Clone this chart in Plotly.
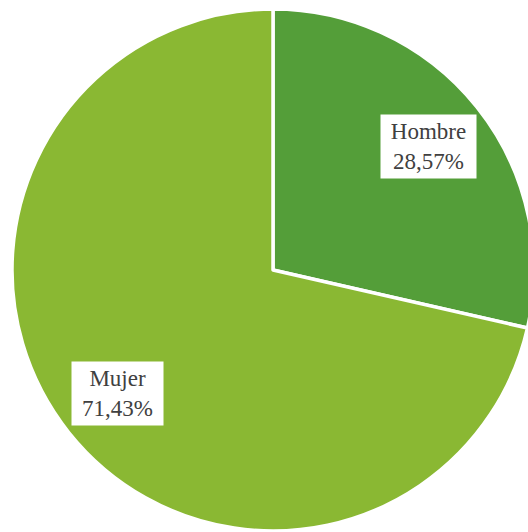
import math
import plotly.graph_objects as go

# Distribution by sex (percent)
labels = ["Hombre", "Mujer"]
values = [28.57, 71.43]
colors = ["#549E39", "#8AB833"]

# Canvas and pie geometry (pixels)
W, H = 534, 532
CX, CY, R = 273, 270, 261
LABEL_R = 0.76          # label distance from centre as a fraction of radius
BOX_W = {"Hombre": 89, "Mujer": 85}
BOX_H = 57

fig = go.Figure(
    go.Pie(
        labels=labels,
        values=values,
        sort=False,
        direction="clockwise",
        rotation=0,
        marker=dict(colors=colors, line=dict(color="white", width=3.5)),
        textinfo="none",
        hoverinfo="label+percent",
        showlegend=False,
        domain=dict(
            x=[(CX - R) / W, min(1.0, (CX + R) / W)],
            y=[max(0.0, 1 - (CY + R) / H), 1 - (CY - R) / H],
        ),
    )
)

# Boxed labels placed at the middle angle of each slice
total = sum(values)
start = 0.0
annotations = []
for lab, val in zip(labels, values):
    mid = (start + val / 2) / total * 2 * math.pi
    start += val
    px = CX + LABEL_R * R * math.sin(mid)
    py = CY - LABEL_R * R * math.cos(mid)
    pct = f"{val:.2f}".replace(".", ",") + "%"
    annotations.append(
        dict(
            x=px / W,
            y=1 - py / H,
            xref="paper",
            yref="paper",
            xanchor="center",
            yanchor="middle",
            text=f"{lab}<br>{pct}",
            showarrow=False,
            align="center",
            valign="middle",
            bgcolor="white",
            borderpad=3,
            width=BOX_W[lab],
            height=BOX_H,
            font=dict(family="Liberation Serif, Times New Roman, serif", size=23, color="#404040"),
        )
    )

fig.update_layout(
    width=W,
    height=H,
    margin=dict(l=0, r=0, t=0, b=0),
    paper_bgcolor="white",
    plot_bgcolor="white",
    annotations=annotations,
)

fig.write_html(
    "out.html",
    post_script="document.documentElement.style.overflow='hidden';document.body.style.overflow='hidden';",
)
